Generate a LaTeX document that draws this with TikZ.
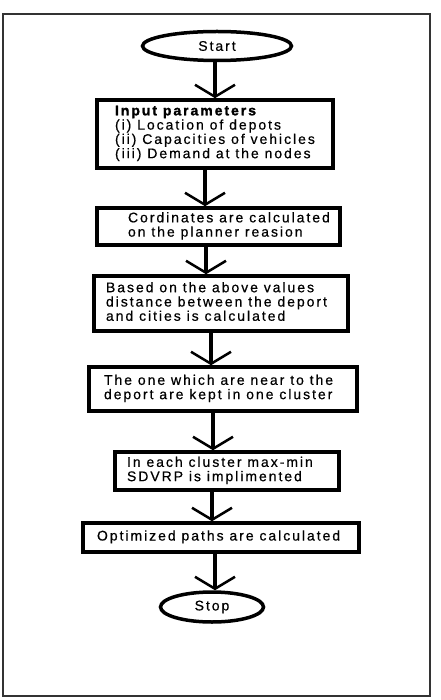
\documentclass[tikz,border=0pt]{standalone}
\usepackage{fontspec}
\setmainfont{Liberation Sans}[LetterSpace=14,UprightFeatures={FakeBold=0.5},BoldFeatures={FakeBold=1.5}]
\usetikzlibrary{shapes.geometric,arrows.meta}
\newcommand{\bxt}[3]{\makebox[#1pt][l]{\hspace*{#2pt}\begin{tabular}{@{}l@{}}#3\end{tabular}}}
\tikzset{
  fbox/.style={draw=black, line width=3.5pt, rectangle, inner sep=0pt,
    font=\fontsize{14}{13.8}\selectfont},
  term/.style={draw=black, line width=3.5pt, ellipse, inner sep=0pt,
    font=\fontsize{14}{13.8}\selectfont},
  arr/.style={line width=4pt, -{Straight Barb[length=12pt,width=40pt,line width=2.5pt]}},
  frame/.style={draw=black!80, line width=1.3pt}
}
\begin{document}
\begin{tikzpicture}[x=1pt,y=-1pt]
\useasboundingbox (0,0) rectangle (440,700);
\draw[frame] (3,14) rectangle (430,696);

\node[term, minimum width=149pt, minimum height=29pt] (start) at (217,46) {Start};
\node[fbox, minimum width=236pt, minimum height=68pt] (b1) at (215,134)
  {\bxt{236}{18}{\textbf{Input parameters}\\(i) Location of depots\\(ii) Capacities of vehicles\\(iii) Demand at the nodes}};
\node[fbox, minimum width=243pt, minimum height=37pt] (b2) at (218.5,226.5)
  {\bxt{243}{31}{Cordinates are calculated\\on the planner reasion}};
\node[fbox, minimum width=254pt, minimum height=55pt] (b3) at (221,303.5)
  {\bxt{254}{12}{Based on the above values\\distance between the deport\\and cities is calculated}};
\node[fbox, minimum width=268pt, minimum height=44pt] (b4) at (223,389)
  {\bxt{268}{15}{The one which are near to the\\deport are kept in one cluster}};
\node[fbox, minimum width=224pt, minimum height=38pt] (b5) at (227,471)
  {\bxt{224}{12}{In each cluster max-min\\SDVRP is implimented}};
\node[fbox, minimum width=276pt, minimum height=29pt] (b6) at (221,537.5)
  {\bxt{276}{14}{Optimized paths are calculated}};
\node[term, minimum width=103pt, minimum height=30pt] (stop) at (212,607) {Stop};

\draw[arr] (start.south -| 215,0) -- (b1.north -| 215,0);
\draw[arr] (b1.south -| 205,0) -- (b2.north -| 205,0);
\draw[arr] (b2.south -| 206,0) -- (b3.north -| 206,0);
\draw[arr] (b3.south -| 211,0) -- (b4.north -| 211,0);
\draw[arr] (b4.south -| 213,0) -- (b5.north -| 213,0);
\draw[arr] (b5.south -| 212,0) -- (b6.north -| 212,0);
\draw[arr] (b6.south -| 215,0) -- (stop.north -| 215,0);
\end{tikzpicture}
\end{document}
